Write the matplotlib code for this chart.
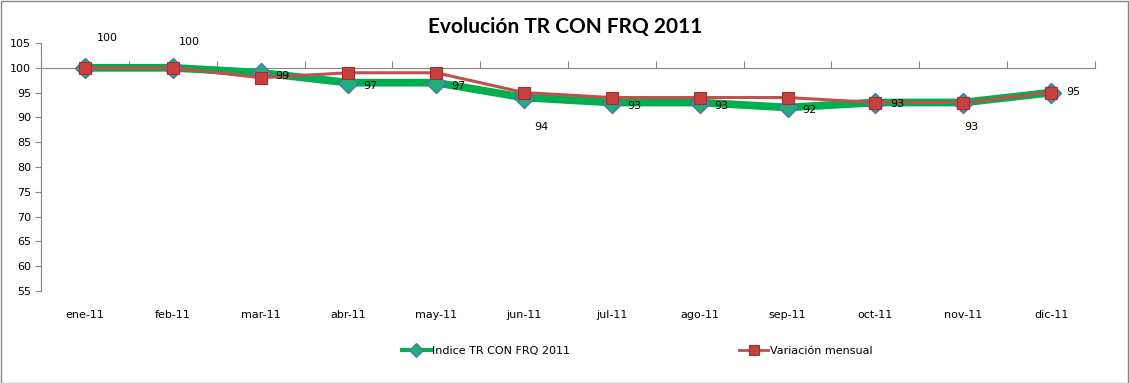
import matplotlib
matplotlib.use("Agg")
import matplotlib.pyplot as plt
from matplotlib.patches import Rectangle
from matplotlib.lines import Line2D

months = ["ene-11", "feb-11", "mar-11", "abr-11", "may-11", "jun-11",
          "jul-11", "ago-11", "sep-11", "oct-11", "nov-11", "dic-11"]
indice = [100, 100, 99, 97, 97, 94, 93, 93, 92, 93, 93, 95]
variacion = [100, 100, 98, 99, 99, 95, 94, 94, 94, 93, 93, 95]
label_offsets = [(22, 30, "center"), (17, 26, "center"), (15, -3, "left"),
                 (15, -3, "left"), (15, -3, "left"), (17, -29, "center"),
                 (15, -3, "left"), (15, -3, "left"), (15, -3, "left"),
                 (15, -1, "left"), (8, -24, "center"), (15, 1, "left")]

W, H = 1129, 383
fig = plt.figure(figsize=(W / 100, H / 100), dpi=100)
ax = fig.add_axes([41 / W, (H - 291) / H, (1095 - 41) / W, (291 - 43) / H])

axis_col = "#868686"
green_kw = dict(color="#00B050", marker="D", mfc="#1FAF7A", mec="#4F6FA8")
red_kw = dict(color="#C0504D", marker="s", mfc="#C8403D", mec="#A03030")
x = list(range(len(months)))
ax.plot(x, indice, lw=5.6, ms=10, mew=1.0, zorder=3,
        solid_joinstyle="round", **green_kw)
ax.plot(x, variacion, lw=2.2, ms=8.5, mew=0.8, zorder=4, **red_kw)

for xi, v, (dx, dy, ha) in zip(x, indice, label_offsets):
    ax.annotate(f"{v}", (xi, v), xytext=(dx, dy), textcoords="offset pixels",
                ha=ha, va="center", fontsize=8, color="black", zorder=5)

ax.set_xlim(-0.5, len(months) - 0.5)
ax.set_ylim(55, 105)
ax.set_yticks(range(55, 106, 5))
ax.tick_params(axis="y", direction="out", length=4, color=axis_col,
               labelsize=8, pad=3)
for s in ["top", "right"]:
    ax.spines[s].set_visible(False)
ax.spines["left"].set_color(axis_col)
ax.spines["bottom"].set_color(axis_col)
ax.spines["bottom"].set_position(("data", 100))
ax.set_xticks([i - 0.5 for i in range(len(months) + 1)])
ax.set_xticklabels([])
ax.tick_params(axis="x", direction="in", length=5, color=axis_col)

sec = ax.secondary_xaxis("bottom")
sec.set_xticks(x)
sec.set_xticklabels(months)
sec.tick_params(length=0, labelsize=8, pad=14)
sec.spines["bottom"].set_visible(False)

fig.text(565 / W, 1 - 27 / H, "Evolución TR CON FRQ 2011", ha="center",
         va="center", fontsize=15, fontweight="bold", family="Lato")

handles = [Line2D([], [], lw=3, ms=7, mew=0.8, **green_kw),
           Line2D([], [], lw=2, ms=7, mew=0.8, **red_kw)]
fig.legend(handles, ["Indice TR CON FRQ 2011", "Variación mensual"],
           loc="center", bbox_to_anchor=(637 / W, 1 - 351 / H), ncol=2,
           frameon=False, fontsize=8, handlelength=2.6, handletextpad=0.15,
           columnspacing=15.2)

fig.patches.append(Rectangle((0.5 / W, 0.5 / H), 1 - 1.5 / W, 1 - 1.5 / H,
                             transform=fig.transFigure, fill=False,
                             edgecolor="#868686", lw=1))
fig.savefig("out.png", dpi=100)
